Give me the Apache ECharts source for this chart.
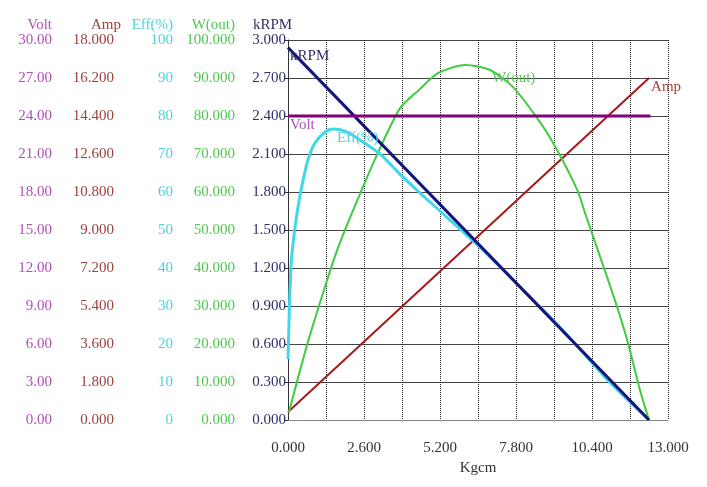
<!DOCTYPE html>
<html>
<head>
<meta charset="utf-8">
<script src="https://cdn.jsdelivr.net/npm/echarts@6/dist/echarts.min.js"></script>
<style>
html,body{margin:0;padding:0;background:#fff;}
#c{width:707px;height:487px;}
</style>
</head>
<body>
<div id="c"></div>
<script>
// ---- data ----
const xTickLabels = ['0.000','','2.600','','5.200','','7.800','','10.400','','13.000'];
const voltTicks = ['0.00','3.00','6.00','9.00','12.00','15.00','18.00','21.00','24.00','27.00','30.00'];
const ampTicks  = ['0.000','1.800','3.600','5.400','7.200','9.000','10.800','12.600','14.400','16.200','18.000'];
const effTicks  = ['0','10','20','30','40','50','60','70','80','90','100'];
const wTicks    = ['0.000','10.000','20.000','30.000','40.000','50.000','60.000','70.000','80.000','90.000','100.000'];
const rpmTicks  = ['0.000','0.300','0.600','0.900','1.200','1.500','1.800','2.100','2.400','2.700','3.000'];
const axisTitles = ['Volt','Amp','Eff(%)','W(out)','kRPM'];

const voltData = [[0,24],[12.4,24]];
const ampData  = [[0,0.38],[12.35,16.2]];
const rpmData  = [[0,2.94],[12.35,0]];
const effData  = [[0,16],[0.05,30],[0.1,40],[0.15,45],[0.31,54.5],[0.48,61.8],[0.68,68.4],[0.92,72.9],[1.27,75.8],[1.54,76.6],[1.95,76],[2.46,73.7],[3.15,70],[3.83,64.7],[4.52,59.7],[5.2,55],[6.67,44.7],[8.28,32.4],[9.3,24.5],[11.0,10],[12.35,0]];
const wData    = [[0.03,2],[0.65,19.7],[1.23,34.2],[1.68,44.7],[2.19,54.5],[3.04,69.7],[3.83,82],[4.5,87],[5.13,91.3],[6.06,93.4],[6.91,92.1],[7.7,87.6],[8.5,79.7],[9.07,72.9],[9.9,60.5],[10.16,54.5],[10.6,44.7],[11.26,29.7],[11.63,20.3],[12.04,7.9],[12.35,0]];

const FONT = '"Liberation Serif","DejaVu Serif",serif';
const C = {
  volt:'#b050b8', voltLine:'#800080',
  amp:'#a04040', ampLine:'#a81818',
  eff:'#50d0e0', effLine:'#40d8e8',
  w:'#50c850', wLine:'#40cc40',
  rpm:'#303068', rpmLine:'#14147a'
};

function yAx(ticks, max, interval, offset, color, main){
  return {
    type:'value', position:'left', min:0, max:max, interval:interval, offset:offset,
    axisLine:{show:!!main, lineStyle:{color:'#333', width:1}},
    axisTick:{show:!!main, length:4, lineStyle:{color:'#333'}},
    axisLabel:{show:true, margin:2, color:color, fontFamily:FONT, fontSize:15,
      formatter:function(v){ return ticks[Math.round(v/interval)]; }},
    splitLine:{show:!!main, lineStyle:{color:'#444', width:1, type:'solid'}}
  };
}

function labeled(data, idx, text, color, offset){
  return data.map(function(p,i){
    if(i!==idx) return {value:p};
    return {value:p, label:{show:true, formatter:text, position:'right', distance:2,
      offset:offset, color:color, fontFamily:FONT, fontSize:15}};
  });
}

function lineSeries(name, data, yIdx, color, width, smooth){
  return {
    name:name, type:'line', yAxisIndex:yIdx, data:data,
    symbol:'circle', symbolSize:0.1, showSymbol:true,
    itemStyle:{color:color}, smooth:smooth||false,
    lineStyle:{color:color, width:width},
    emphasis:{disabled:true}, silent:true
  };
}

function title(text, x, align, color){
  return {type:'text', x:x, y:25, silent:true,
    style:{text:text, fill:color, font:'15px '+FONT, textAlign:align, textVerticalAlign:'middle'}};
}

const chart = echarts.init(document.getElementById('c'), null, {renderer:'canvas'});
chart.setOption({
  animation:false,
  backgroundColor:'#ffffff',
  grid:{left:288, top:40, width:380, height:380, containLabel:false},
  graphic:[
    title(axisTitles[0], 52, 'right', C.volt),
    title(axisTitles[1], 121, 'right', C.amp),
    title(axisTitles[2], 173, 'right', C.eff),
    title(axisTitles[3], 235, 'right', C.w),
    title(axisTitles[4], 253, 'left', C.rpm)
  ],
  xAxis:{
    type:'value', min:0, max:13, interval:1.3,
    name:'Kgcm', nameLocation:'middle', nameGap:40,
    nameTextStyle:{color:'#333', fontFamily:FONT, fontSize:15},
    axisLine:{show:true, lineStyle:{color:'#888', width:1}},
    axisTick:{show:false},
    axisLabel:{margin:21, color:'#333', fontFamily:FONT, fontSize:15,
      formatter:function(v){ return xTickLabels[Math.round(v/1.3)]; }},
    splitLine:{show:true, lineStyle:{color:'#222', width:1, type:'dotted'}}
  },
  yAxis:[
    yAx(voltTicks, 30, 3, 234, C.volt, false),
    yAx(ampTicks, 18, 1.8, 172, C.amp, false),
    yAx(effTicks, 100, 10, 113, C.eff, false),
    yAx(wTicks, 100, 10, 51, C.w, false),
    yAx(rpmTicks, 3, 0.3, 0, C.rpm, true)
  ],
  series:[
    lineSeries('Amp', labeled(ampData, 1, 'Amp', C.amp, [0,9]), 1, C.ampLine, 2),
    lineSeries('W(out)', labeled(wData, 10, 'W(out)', C.w, [0,8]), 3, C.wLine, 2, 0.25),
    lineSeries('Eff(%)', labeled(effData, 9, 'Eff(%)', C.eff, [2,9]), 2, C.effLine, 3, 0.25),
    lineSeries('kRPM', labeled(rpmData, 0, 'kRPM', C.rpm, [0,8]), 4, C.rpmLine, 3),
    lineSeries('Volt', labeled(voltData, 0, 'Volt', C.volt, [0,9]), 0, C.voltLine, 3)
  ]
});
</script>
</body>
</html>
